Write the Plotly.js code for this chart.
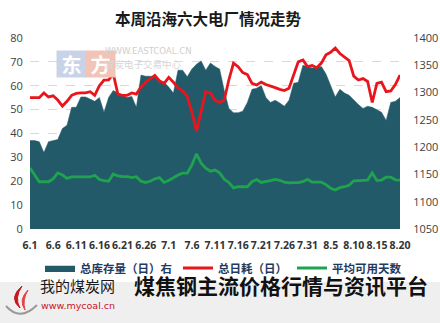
<!DOCTYPE html>
<html>
<head>
<meta charset="utf-8">
<script src="https://cdn.plot.ly/plotly-3.0.1.min.js"></script>
<style>
html,body{margin:0;padding:0;background:#fff;}
#chart{width:440px;height:323px;}
</style>
</head>
<body>
<div id="chart"></div>
<script>
const dates = ["6.1","6.2","6.3","6.4","6.5","6.6","6.7","6.8","6.9","6.10",
"6.11","6.12","6.13","6.14","6.15","6.16","6.17","6.18","6.19","6.20",
"6.21","6.22","6.23","6.24","6.25","6.26","6.27","6.28","6.29","6.30",
"7.1","7.2","7.3","7.4","7.5","7.6","7.7","7.8","7.9","7.10",
"7.11","7.12","7.13","7.14","7.15","7.16","7.17","7.18","7.19","7.20",
"7.21","7.22","7.23","7.24","7.25","7.26","7.27","7.28","7.29","7.30",
"7.31","8.1","8.2","8.3","8.4","8.5","8.6","8.7","8.8","8.9",
"8.10","8.11","8.12","8.13","8.14","8.15","8.16","8.17","8.18","8.19","8.20"];

const tickLabels = ["6.1","6.6","6.11","6.16","6.21","6.26","7.1","7.6","7.11","7.16","7.21","7.26","7.31","8.5","8.10","8.15","8.20"];

// 总库存量（日）— right axis
const stock = [1212,1212,1210,1190,1210,1212,1214,1234,1240,1273,
1273,1292,1292,1288,1284,1291,1264,1291,1304,1299,
1295,1291,1293,1273,1332,1330,1330,1328,1319,1319,
1310,1299,1341,1341,1329,1343,1352,1358,1341,1354,
1348,1343,1304,1271,1263,1263,1266,1282,1306,1308,
1313,1291,1282,1286,1281,1275,1286,1317,1319,1350,
1348,1345,1345,1348,1334,1313,1292,1306,1299,1295,
1286,1278,1271,1275,1273,1269,1264,1249,1282,1284,1291];

// 总日耗（日）— left axis
const consumption = [55,55,55,57,55.3,55.8,54,51.5,53.5,56,
56.8,57,57,57.5,56,60,62.4,62.5,65,56.5,
56,56,57,56.5,59.5,61.5,63,64.3,62,61,
63.5,61.5,59,58,55.5,49,41,50,57.5,57,
54,53,54,62.5,69.5,68,65.5,64.7,61,60.3,
61.5,60.5,60,59.2,58.5,58,59,65,70,70.8,
68,68.5,67.5,69.5,73,74,75.8,73.5,72,70.5,
64,62.4,63,61.8,53,61,61.5,57.5,57.8,60.5,64.5];

// 平均可用天数 — left axis
const days = [25.5,22.6,19.8,19.8,19.8,21,23.5,22.6,21.2,21.8,
21.8,21.8,21.8,21.8,22.5,20.7,20.3,20,23,22.2,
21.9,21.9,21.5,21.9,20,19.5,20,21,21.5,19.5,
20.3,21.5,22.6,23.4,23.4,26.8,31.5,27.6,25.5,24.2,
24.7,23.5,20.8,19.5,17.2,17.7,17.7,17.7,19.8,20.7,
19.5,19.8,20.3,20.8,20.4,19.6,19.3,19.4,19.4,19.8,
20.8,19.6,19.7,19.6,18.6,17.1,16.3,17.3,17.7,18.3,
20.2,20.2,20.2,20.5,23.5,20.3,20.5,21.7,21.7,20.6,20.5];

const seriesNames = ["总库存量（日）右","总日耗（日）","平均可用天数"];

const axisFont = {family:"Open Sans, DejaVu Sans, sans-serif", size:11, color:"#404040"};
const cjk = "Noto Sans CJK SC, sans-serif";

const traces = [
  {x:dates, y:stock, name:seriesNames[0], type:"scatter", mode:"lines",
   fill:"tozeroy", fillcolor:"#225a6a", line:{color:"#225a6a", width:0.5}, yaxis:"y", legend:"legend"},
  {x:dates, y:consumption, name:seriesNames[1], type:"scatter", mode:"lines",
   line:{color:"#e8161c", width:2.8}, yaxis:"y2", legend:"legend2"},
  {x:dates, y:days, name:seriesNames[2], type:"scatter", mode:"lines",
   line:{color:"#1fa34e", width:2.8}, yaxis:"y2", legend:"legend3"}
];

function px(x){return (x-30)/370;}
function py(y){return (229-y)/191;}

const legendFont = {family:cjk, size:11.5, color:"#1f3a5f", weight:"bold"};
function legendAt(x){
  return {orientation:"h", x:px(x), xanchor:"left", y:py(268), yanchor:"middle",
          font:legendFont, bgcolor:"rgba(0,0,0,0)", itemwidth:30, borderwidth:0};
}

const layout = {
  width:440, height:323,
  margin:{l:30, r:40, t:38, b:94},
  paper_bgcolor:"#ffffff", plot_bgcolor:"rgba(0,0,0,0)",
  showlegend:true,
  title:{text:"本周沿海六大电厂情况走势", x:208/440, xref:"container", xanchor:"center",
         y:1-20/323, yref:"container", yanchor:"middle",
         font:{family:cjk, size:15.5, color:"#1a1a1a", weight:"bold"}},
  xaxis:{type:"category", range:[0,80], tickvals:tickLabels, ticktext:tickLabels,
         showgrid:false, zeroline:false, showline:false,
         ticks:"outside", ticklen:6, tickcolor:"rgba(0,0,0,0)",
         tickfont:{family:"Open Sans, DejaVu Sans, sans-serif", size:10.5, color:"#333", weight:"bold"},
         tickangle:0, fixedrange:true},
  yaxis:{side:"right", range:[1050,1400], dtick:50, showgrid:false, zeroline:false,
         showline:false, tickfont:axisFont, ticks:"outside", ticklen:10, tickcolor:"rgba(0,0,0,0)"},
  yaxis2:{side:"left", overlaying:"y", range:[0,80], dtick:10, showgrid:true,
          gridcolor:"#d9d9d9", griddash:"dash", gridwidth:1, zeroline:false,
          showline:false, tickfont:axisFont, ticks:"outside", ticklen:4, tickcolor:"rgba(0,0,0,0)"},
  legend:legendAt(40),
  legend2:legendAt(178),
  legend3:legendAt(292),
  shapes:[
    {type:"rect", xref:"paper", yref:"paper", x0:px(0), x1:px(440), y0:py(282), y1:py(323),
     fillcolor:"#efefef", line:{width:0}, layer:"below"},
    {type:"path", xref:"paper", yref:"paper",
     path:"M "+px(22)+","+py(286)+" Q "+px(8)+","+py(298)+" "+px(20)+","+py(308)+" Q "+px(14)+","+py(298)+" "+px(22)+","+py(286)+" Z",
     fillcolor:"#c8161d", line:{color:"#c8161d", width:1}},
    {type:"path", xref:"paper", yref:"paper",
     path:"M "+px(28)+","+py(290)+" Q "+px(18)+","+py(300)+" "+px(25)+","+py(310)+" Q "+px(22)+","+py(300)+" "+px(28)+","+py(290)+" Z",
     fillcolor:"#e0454a", line:{color:"#e0454a", width:1}},
    {type:"path", xref:"paper", yref:"paper",
     path:"M "+px(6)+","+py(306)+" Q "+px(20)+","+py(322)+" "+px(37)+","+py(305),
     line:{color:"#999", width:2}}
  ],
  annotations:[
    {text:"东", xref:"paper", yref:"paper", x:px(56), y:py(50), showarrow:false,
     font:{family:cjk, size:20, color:"#ffffff", weight:"bold"}, bgcolor:"#c9d3e8", width:27, height:24},
    {text:"方", xref:"paper", yref:"paper", x:px(85), y:py(50), showarrow:false,
     font:{family:cjk, size:20, color:"#ffffff", weight:"bold"}, bgcolor:"#f2c4b8", width:27, height:24},
    {text:"WWW.EASTCOAL.CN", xref:"paper", yref:"paper", x:px(103), y:py(43), xanchor:"left", showarrow:false,
     font:{family:"Liberation Sans Narrow, DejaVu Sans Condensed, sans-serif", size:9.5, color:"#cfcfcf"}},
    {text:"煤炭电子交易中心", xref:"paper", yref:"paper", x:px(103), y:py(55), xanchor:"left", showarrow:false,
     font:{family:cjk, size:9.5, color:"#d6d6d6"}},
    {text:"我的煤炭网", xref:"paper", yref:"paper", x:px(38), y:py(298), xanchor:"left", showarrow:false,
     font:{family:cjk, size:15, color:"#1a1a1a"}},
    {text:"www.mycoal.cn", xref:"paper", yref:"paper", x:px(39), y:py(313), xanchor:"left", showarrow:false,
     font:{family:"DejaVu Sans, sans-serif", size:9.5, color:"#c8161d"}},
    {text:"煤焦钢主流价格行情与资讯平台", xref:"paper", yref:"paper", x:px(281), y:py(302), xanchor:"center", showarrow:false,
     font:{family:cjk, size:21, color:"#111111", weight:"bold"}}
  ]
};

Plotly.newPlot("chart", traces, layout, {displayModeBar:false, staticPlot:true});
</script>
</body>
</html>
